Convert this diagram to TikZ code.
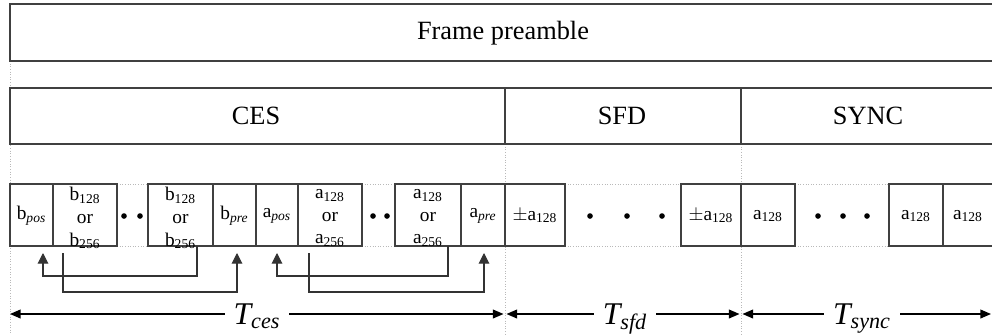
\documentclass[tikz,border=0pt]{standalone}
\usepackage{fontspec}
\setmainfont{Liberation Serif}
\usetikzlibrary{arrows.meta}
\newcommand{\lsub}[2]{#1\textsubscript{#2}}
\newcommand{\isub}[2]{#1\textsubscript{\itshape #2}}
\newcommand{\altseq}[1]{\lsub{#1}{128}\\or\\\lsub{#1}{256}}
\begin{document}
\begin{tikzpicture}[x=0.02cm, y=-0.02cm,
		cell/.style={draw=black!75, line width=0.8pt, fill=white},
		guide/.style={draw=gray!55, densely dotted, line width=0.5pt},
		lbl/.style={font=\fontsize{11}{13}\selectfont, inner sep=0pt, align=center},
		big/.style={font=\fontsize{15}{18}\selectfont},
		link/.style={draw=black!80, line width=0.6pt, -{Triangle[length=6pt, width=6pt]}},
		span/.style={line width=0.7pt, {Triangle[length=6pt, width=5pt]}-{Triangle[length=6pt, width=5pt]}},
		tlab/.style={fill=white, font=\fontsize{18}{20}\selectfont\itshape, anchor=base, inner xsep=5pt, inner ysep=1pt}]
		\useasboundingbox (0,0) rectangle (992,335);
		\clip (0,0) rectangle (992,335);
		% guides
		\draw[guide] (10,61) -- (10,335);
		\draw[guide] (505,144) -- (505,335);
		\draw[guide] (741,144) -- (741,335);
		\foreach \xa/\xb in {117/148, 362/395, 565/681, 795/889} {
			\draw[guide] (\xa,184) -- (\xb,184);
			\draw[guide] (\xa,246) -- (\xb,246);
		}
		% frame and fields
		\draw[cell] (10,4) rectangle (1000,61);
		\node[big] (frame) at (503,33) {Frame preamble};
		\draw[cell] (10,88) rectangle (1000,144);
		\draw[cell] (505,88) -- (505,144);
		\draw[cell] (741,88) -- (741,144);
		\node[big] (ces) at (256,116) {CES};
		\node[big] (sfd) at (622,116) {SFD};
		\node[big] (sync) at (868,116) {SYNC};
		% sequences
		\foreach \xa/\xb in {10/53, 53/117, 148/213, 213/256, 256/298, 298/362, 395/461, 461/505, 505/565, 681/741, 741/795, 889/943, 943/1000}
			\draw[cell] (\xa,184) rectangle (\xb,246);
		\node[lbl] (bpos) at (31.5,216) {\isub{b}{pos}};
		\node[lbl] (bA) at (85,218) {\altseq{b}};
		\node[lbl] (bB) at (180.5,218) {\altseq{b}};
		\node[lbl] (bpre) at (234.5,216) {\isub{b}{pre}};
		\node[lbl] (apos) at (277,216) {\isub{a}{pos}};
		\node[lbl] (aA) at (330,218) {\altseq{a}};
		\node[lbl] (aB) at (428,218) {\altseq{a}};
		\node[lbl] (apre) at (483,216) {\isub{a}{pre}};
		\node[lbl] (sfdA) at (535,216) {\lsub{$\pm$a}{128}};
		\node[lbl] (sfdB) at (711,216) {\lsub{$\pm$a}{128}};
		\node[lbl] (syncA) at (768,216) {\lsub{a}{128}};
		\node[lbl] (syncB) at (916,216) {\lsub{a}{128}};
		\node[lbl] (syncC) at (968,216) {\lsub{a}{128}};
		\foreach \x in {124, 140, 373, 387, 590, 627, 662, 818, 843, 867}
			\fill (\x,216) circle[radius=1.6pt];
		% cyclic copies
		\coordinate (outbB) at (197,246);
		\coordinate (inbpos) at (43,253);
		\coordinate (outbA) at (63,253);
		\coordinate (inbpre) at (237,253);
		\coordinate (outaB) at (448,246);
		\coordinate (inapos) at (277,253);
		\coordinate (outaA) at (309,253);
		\coordinate (inapre) at (484,253);
		\draw[link] (outbB) -- ++(0,30) -| (inbpos);
		\draw[link] (outbA) -- ++(0,39) -| (inbpre);
		\draw[link] (outaB) -- ++(0,30) -| (inapos);
		\draw[link] (outaA) -- ++(0,39) -| (inapre);
		% durations
		\coordinate (t0) at (10,314);
		\coordinate (t1) at (503.5,314);
		\coordinate (t1b) at (506.5,314);
		\coordinate (t2) at (739.5,314);
		\coordinate (t2b) at (742.5,314);
		\coordinate (t3) at (991,314);
		\draw[span] (t0) -- (t1);
		\draw[span] (t1b) -- (t2);
		\draw[span] (t2b) -- (t3);
		\node[tlab] (tces) at (257,324) {T\textsubscript{ces}};
		\node[tlab] (tsfd) at (625,324) {T\textsubscript{sfd}};
		\node[tlab] (tsync) at (862,324) {T\textsubscript{sync}};
	\end{tikzpicture}
\end{document}
